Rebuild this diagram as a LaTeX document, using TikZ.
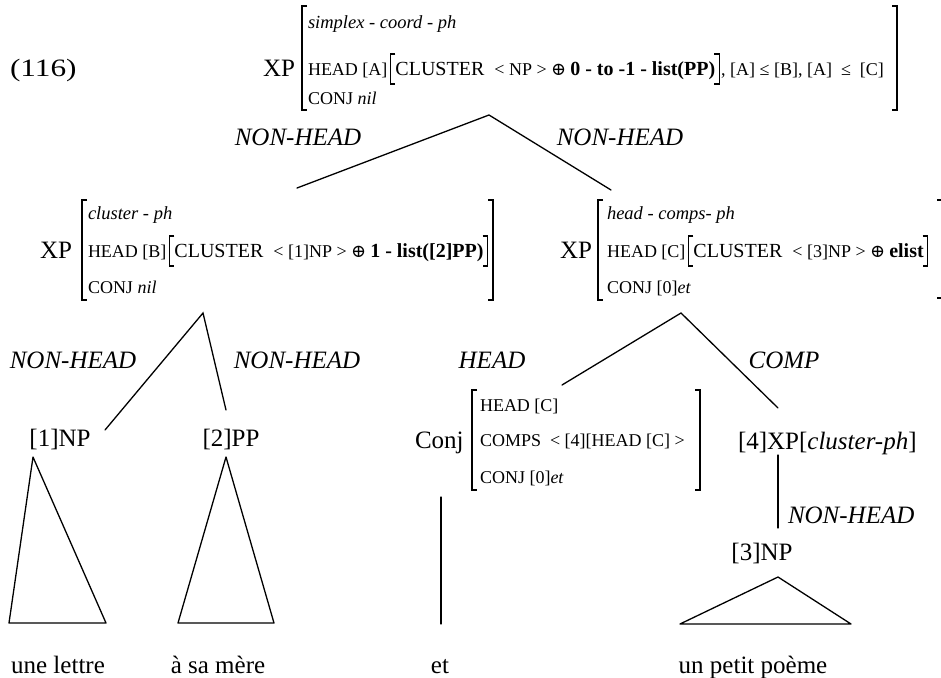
\documentclass[tikz,border=0pt]{standalone}
\usepackage{fontspec}
\setmainfont{Liberation Serif}
\newfontfamily\symf{DejaVu Serif}
\usetikzlibrary{calc}
\newcommand{\fsz}[1]{\fontsize{#1}{#1}\selectfont}
\tikzset{
  txt/.style={inner sep=0pt, outer sep=0pt, anchor=base west},
  ctr/.style={inner sep=0pt, outer sep=0pt, anchor=base, font=\fsz{25}},
  lbl/.style={inner sep=0pt, outer sep=0pt, anchor=base, font=\fsz{25}\itshape},
  big/.style={font=\fsz{25}},
  avm/.style={font=\fsz{18}},
  avmi/.style={font=\fsz{18.5}\itshape},
  clu/.style={font=\fsz{20}},
  bld/.style={font=\fsz{20}\bfseries},
  edge/.style={line width=1.3pt, line cap=round},
  brk/.style={line width=1.1pt},
  pics/lbrk/.style args={#1/#2}{code={\draw[brk] (5,#1) -- (0,#1) -- (0,#2) -- (5,#2);}},
  pics/rbrk/.style args={#1/#2}{code={\draw[brk] (-5,#1) -- (0,#1) -- (0,#2) -- (-5,#2);}},
}
\begin{document}
\begin{tikzpicture}[x=1pt,y=-1pt]
\fill[white] (0,0) rectangle (941,677);
\useasboundingbox (0,0) rectangle (941,677);

% ---------- top AVM ----------
\node[txt,big] (ex) at (10,76) {\scalebox{1.25}[1]{(116)}};
\node[txt,big] (xp0) at (263,76) {XP};
\pic at (302,0) {lbrk=6/110};
\pic at (897,0) {rbrk=6/110};
\node[txt,avmi] (a01) at (308,29) {simplex - coord - ph};
\node[txt,avm] (a02) at (308,75) {HEAD [A]};
\pic at ($(a02.base east)+(3,0)$) {lbrk=-21/9};
\node[txt,clu] (a02b) at ($(a02.base east)+(8,0)$) {CLUSTER\ \ {\fsz{18}< NP > {\symf ⊕}}\ };
\node[txt,bld] (a02c) at ($(a02b.base east)+(4,0)$) {0 - to -1 - list(PP)};
\pic at ($(a02c.base east)+(4,0)$) {rbrk=-21/9};
\node[txt,avm] (a02d) at ($(a02c.base east)+(6,0)$) {, [A] ≤ [B], [A]\ \ ≤\ \ [C]};
\node[txt,avm] (a03) at (308,104) {CONJ \textit{nil}};

% ---------- top tree ----------
\coordinate (t0) at (489,115);
\coordinate (t0l) at (297,188);
\coordinate (t0r) at (611,190);
\draw[edge] (t0l) -- (t0) -- (t0r);
\node[lbl] (l0a) at (298,145) {NON-HEAD};
\node[lbl] (l0b) at (620,145) {NON-HEAD};

% ---------- left middle AVM ----------
\node[txt,big] (xp1) at (40,258) {XP};
\pic at (82,0) {lbrk=200/300};
\pic at (493,0) {rbrk=200/300};
\node[txt,avmi] (b01) at (88,219) {cluster - ph};
\node[txt,avm] (b02) at (88,257) {HEAD [B]};
\pic at ($(b02.base east)+(3,0)$) {lbrk=-21/9};
\node[txt,clu] (b02b) at ($(b02.base east)+(8,0)$) {CLUSTER\ \ {\fsz{18}< [1]NP > {\symf ⊕}}\ };
\node[txt,bld] (b02c) at ($(b02b.base east)+(4,0)$) {1 - list([2]PP)};
\pic at ($(b02c.base east)+(4,0)$) {rbrk=-21/9};
\node[txt,avm] (b03) at (88,293) {CONJ \textit{nil}};

% ---------- right middle AVM ----------
\node[txt,big] (xp2) at (560,258) {XP};
\pic at (598,0) {lbrk=200/300};
\draw[brk] (937,200) -- (941,200);
\draw[brk] (937,298) -- (941,298);
\node[txt,avmi] (c01) at (607,219) {head - comps- ph};
\node[txt,avm] (c02) at (607,257) {HEAD [C]};
\pic at ($(c02.base east)+(3,0)$) {lbrk=-21/9};
\node[txt,clu] (c02b) at ($(c02.base east)+(8,0)$) {CLUSTER\ \ {\fsz{18}< [3]NP > {\symf ⊕}}\ };
\node[txt,bld] (c02c) at ($(c02b.base east)+(4,0)$) {elist};
\pic at ($(c02c.base east)+(4,0)$) {rbrk=-21/9};
\node[txt,avm] (c03) at (607,293) {CONJ [0]\textit{et}};

% ---------- left subtree ----------
\coordinate (s1) at (203,313);
\coordinate (s1l) at (105,430);
\coordinate (s1r) at (226,410);
\draw[edge] (s1l) -- (s1) -- (s1r);
\node[lbl] (l1a) at (73,368) {NON-HEAD};
\node[lbl] (l1b) at (297,368) {NON-HEAD};
\node[ctr] (np1) at (60,446) {[1]NP};
\node[ctr] (pp2) at (231,446) {[2]PP};
\draw[edge, line join=round] (33,457) -- (9,623) -- (106,623) -- cycle;
\draw[edge, line join=round] (226,457) -- (178,623) -- (274,623) -- cycle;
\node[ctr] (w1) at (58,673) {une lettre};
\node[ctr] (w2) at (218,673) {à sa mère};

% ---------- right subtree ----------
\coordinate (s2) at (681,313);
\coordinate (s2l) at (562,385);
\coordinate (s2r) at (778,408);
\draw[edge] (s2l) -- (s2) -- (s2r);
\node[lbl] (l2a) at (492,368) {HEAD};
\node[lbl] (l2b) at (784,368) {COMP};

\node[txt,big] (conj) at (415,448) {Conj};
\pic at (472,0) {lbrk=390/490};
\pic at (700,0) {rbrk=390/490};
\node[txt,avm] (d01) at (480,411) {HEAD [C]};
\node[txt,avm] (d02) at (480,446) {COMPS\ \ < [4][HEAD [C] >};
\node[txt,avm] (d03) at (480,483) {CONJ [0]\textit{et}};
\coordinate (cj1) at (441,497);
\coordinate (cj2) at (441,624);
\draw[edge] (cj1) -- (cj2);
\node[ctr] (w3) at (440,673) {et};

\node[txt,big] (xp4) at (738,449) {[4]XP[\textit{cluster-ph}]};
\coordinate (v1) at (778,455);
\coordinate (v2) at (778,528);
\draw[edge] (v1) -- (v2);
\node[txt,font=\fsz{25}\itshape] (l3) at (788,523) {NON-HEAD};
\node[ctr] (np3) at (762,560) {[3]NP};
\draw[edge, line join=round] (778,577) -- (680,624) -- (851,624) -- cycle;
\node[ctr] (w4) at (753,673) {un petit poème};
\end{tikzpicture}
\end{document}
